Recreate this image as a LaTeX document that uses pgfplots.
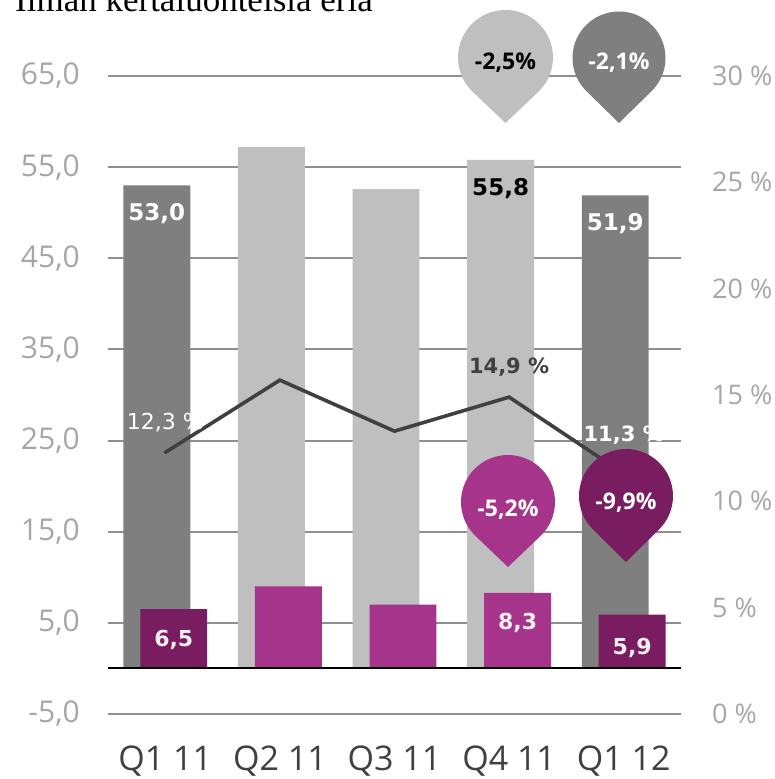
\documentclass[border=0pt]{standalone}
\usepackage{fontspec}
\setmainfont{Open Sans}
\newfontfamily\dejavu{DejaVu Sans}
\newfontfamily\seriffont{Liberation Serif}
\usepackage{pgfplots}
\pgfplotsset{compat=1.18}
\definecolor{dgray}{HTML}{7F7F7F}
\definecolor{lgray}{HTML}{BFBFBF}
\definecolor{mag}{HTML}{A5348A}
\definecolor{dpur}{HTML}{7A1C60}
\definecolor{gridc}{HTML}{8F8F8F}
\definecolor{tickc}{HTML}{A6A6A6}
\definecolor{linec}{HTML}{404040}
\definecolor{offw}{HTML}{EEEEEE}

\newcommand\pin[6]{% cx, cy (pixels), r, d, fill colour, text
  \begin{scope}[shift={({(#1-108)*1pt},{(714-#2)*1pt})}]
    \pgfmathsetmacro\ang{-90+acos(#3/#4)}
    \fill[#5] (0,-#4pt) -- (\ang:#3pt) arc[start angle=\ang, end angle=180-\ang, radius=#3pt] -- cycle;
    #6
  \end{scope}}

\begin{document}
\begin{tikzpicture}
\useasboundingbox (-108pt,-65pt) rectangle (667pt,714pt);

\node[anchor=base west, inner sep=0pt, font=\seriffont\fontsize{35}{36}\selectfont] at (-93pt,702pt) {Ilman kertaluonteisia eriä};

\begin{axis}[
  at={(0pt,0pt)}, anchor=south west,
  scale only axis, width=573pt, height=638pt,
  xmin=-0.5, xmax=4.5, ymin=-5, ymax=65,
  axis line style={draw=none}, tick style={draw=none},
  ytick={-5,5,15,25,35,45,55,65},
  yticklabels={{-5,0},{5,0},{15,0},{25,0},{35,0},{45,0},{55,0},{65,0}},
  ymajorgrids, grid style={gridc, line width=2pt},
  yticklabel style={font=\fontsize{30}{31}\selectfont, text=tickc, anchor=east, inner sep=0pt, xshift=-28pt},
  xtick={0,1,2,3,4},
  xticklabels={Q1 11, Q2 11, Q3 11, Q4 11, Q1 12},
  xticklabel style={font=\fontsize{34}{35}\selectfont, text=linec, anchor=north, inner sep=0pt, yshift=-32pt},
  clip=false,
]
\addplot[ybar, bar width=0.584, bar shift=-0.074, fill=dgray, draw=none] coordinates {(0,53.0) (4,51.9)};
\addplot[ybar, bar width=0.584, bar shift=-0.074, fill=lgray, draw=none] coordinates {(1,57.2) (2,52.6) (3,55.8)};
\addplot[ybar, bar width=0.584, bar shift=0.074, fill=dpur, draw=none] coordinates {(0,6.5) (4,5.9)};
\addplot[ybar, bar width=0.584, bar shift=0.074, fill=mag, draw=none] coordinates {(1,9.0) (2,7.0) (3,8.3)};
\draw[black, line width=2pt] (axis cs:-0.5,0) -- (axis cs:4.5,0);

\node[font=\dejavu\bfseries\fontsize{23}{24}\selectfont, text=white] at (axis cs:-0.074,49.9) {53,0};
\node[font=\dejavu\bfseries\fontsize{23}{24}\selectfont, text=black] at (axis cs:2.926,52.7) {55,8};
\node[font=\dejavu\bfseries\fontsize{23}{24}\selectfont, text=white] at (axis cs:3.926,48.8) {51,9};
\node[font=\dejavu\bfseries\fontsize{22}{23}\selectfont, text=offw] at (axis cs:0.074,3.1) {6,5};
\node[font=\dejavu\bfseries\fontsize{22}{23}\selectfont, text=offw] at (axis cs:3.074,5.0) {8,3};
\node[font=\dejavu\bfseries\fontsize{22}{23}\selectfont, text=offw] at (axis cs:4.074,2.2) {5,9};
\end{axis}

\begin{axis}[
  at={(0pt,0pt)}, anchor=south west,
  scale only axis, width=573pt, height=638pt,
  xmin=-0.5, xmax=4.5, ymin=0, ymax=30,
  axis x line=none, axis y line*=right,
  y axis line style={draw=none}, tick style={draw=none},
  xtick=\empty,
  ytick={0,5,10,15,20,25,30},
  yticklabels={0 \%,5 \%,10 \%,15 \%,20 \%,25 \%,30 \%},
  yticklabel style={font=\fontsize{27}{28}\selectfont, text=tickc, anchor=west, inner sep=0pt, xshift=31pt},
  clip=false,
]
\addplot[linec, line width=3.6pt, line cap=round, mark=none] coordinates {(0,12.3) (1,15.7) (2,13.3) (3,14.9) (4,11.3)};
\node[font=\dejavu\fontsize{22}{23}\selectfont, text=white] at (axis cs:0,13.7) {12,3 \%};
\node[font=\dejavu\bfseries\fontsize{21}{22}\selectfont, text=linec] at (axis cs:3,16.3) {14,9 \%};
\node[font=\dejavu\bfseries\fontsize{21}{22}\selectfont, text=white] at (axis cs:4,13.1) {11,3 \%};
\end{axis}

\pin{505.5}{57.5}{47.5}{65.5}{lgray}{\node[font=\bfseries\fontsize{23}{24}\selectfont, text=black] at (0,-5.5pt) {-2,5\%};}
\pin{619}{58}{46.5}{65}{dgray}{\node[font=\bfseries\fontsize{23}{24}\selectfont, text=white] at (0,-5pt) {-2,1\%};}
\pin{508}{502}{47}{65}{mag}{\node[font=\bfseries\fontsize{23}{24}\selectfont, text=white] at (0,-8pt) {-5,2\%};}
\pin{626}{496}{47}{66}{dpur}{\node[font=\bfseries\fontsize{23}{24}\selectfont, text=white] at (0,-7pt) {-9,9\%};}
\end{tikzpicture}
\end{document}
